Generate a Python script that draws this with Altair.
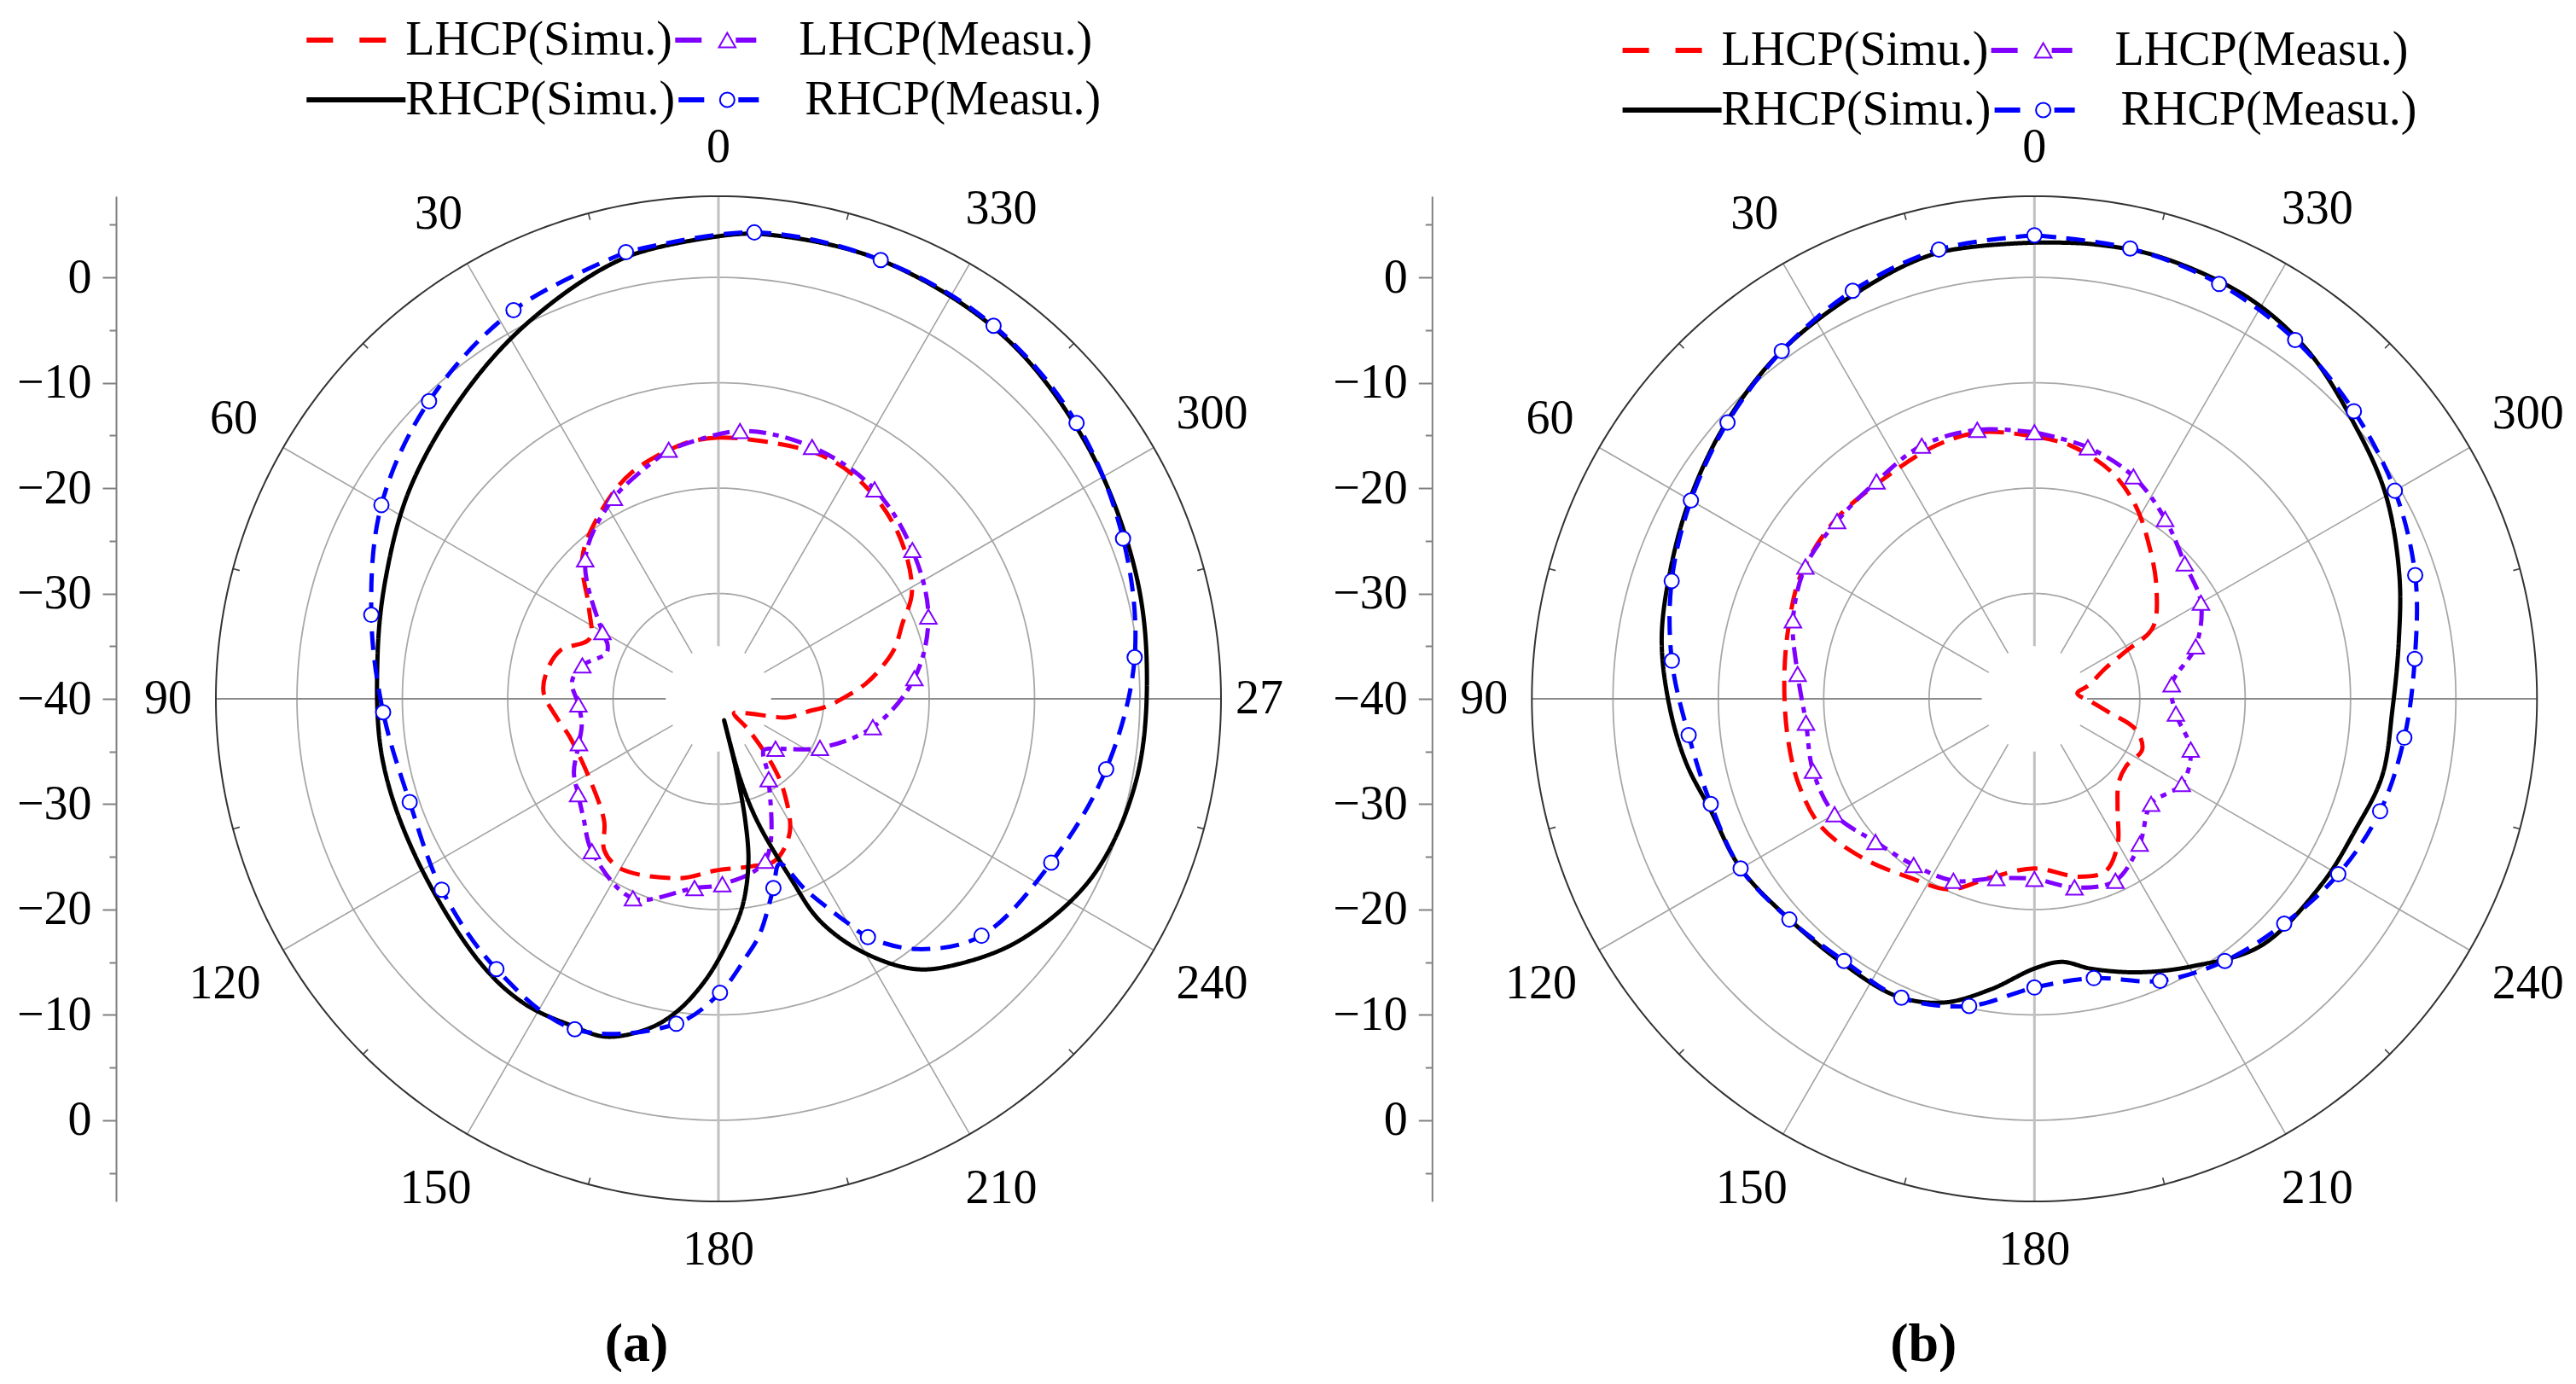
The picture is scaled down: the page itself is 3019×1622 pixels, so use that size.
import altair as alt
import pandas as pd

# ------------------------------------------------------------------ data
# angle in degrees (0 at the top, increasing counter-clockwise), gain in dB
SERIES = ["LHCP(Simu.)", "LHCP(Measu.)", "RHCP(Simu.)", "RHCP(Measu.)"]

# ---------- panel (a)
a_lhcp_sim_deg = [0, 7, 21, 32, 44, 55, 65, 73, 81, 88, 97, 104, 122, 137, 143, 150, 168, 179, 191, 199,
                  208, 215, 219, 224, 227, 238, 245, 255, 262, 266, 271, 276, 281, 286, 292, 299, 312, 325,
                  337, 354, 360]
a_lhcp_sim_db = [-15.2, -15.5, -17.0, -19.0, -21.4, -25.0, -26.5, -24.3, -23.5, -23.4, -24.6, -25.4, -25.6,
                 -24.1, -22.0, -21.4, -22.6, -23.7, -23.8, -23.7, -25.6, -29.1, -31.7, -35.8, -38.0, -37.5,
                 -36.7, -33.2, -31.4, -29.7, -27.9, -25.9, -24.2, -22.6, -21.2, -19.0, -16.9, -15.5, -14.9,
                 -15.2, -15.2]

a_rhcp_sim_deg = [0, 12, 27, 41, 56, 70, 83, 100, 117, 137.4, 147.4, 156, 161.6, 168, 172.5, 177.4, 182.3,
                  186.6, 190.3, 192.4, 194, 194.8, 195.2, 197.6, 202, 204.5, 209.6, 216, 222, 231.5, 244.6,
                  259, 275, 288.6, 305, 322, 340, 355, 360]
a_rhcp_sim_db = [3.9, 2.8, 0.0, -2.5, -4.6, -6.4, -7.4, -7.6, -7.6, -6.3, -5.7, -6.0, -6.2, -8.0, -10.1,
                 -13.3, -17.0, -20.2, -24.1, -28.1, -33.3, -37.9, -32.2, -27.8, -21.5, -16.9, -12.4, -8.3,
                 -6.1, -3.3, -0.7, 0.4, 0.8, 1.45, 2.5, 3.8, 4.4, 4.3, 3.9]

# measured: marked samples, plus unmarked samples traced between markers
a_lhcp_meas_deg = [11.3, 27.5, 43.7, 60.1, 76.2, 92.3, 107.7, 124.2, 140.3, 156.8, 172.8, 181.2, 196.1,
                   212.0, 228.8, 244.2, 259.6, 276.0, 291.4, 307.5, 323.3, 339.6, 355.4]
a_lhcp_meas_db = [-15.9, -18.5, -21.7, -27.3, -26.7, -26.7, -26.1, -23.9, -21.2, -19.4, -21.9, -22.4, -24.0,
                  -31.0, -32.8, -29.3, -25.1, -21.3, -18.6, -16.8, -15.2, -14.5, -14.5]
a_lhcp_meas_between_deg = [64.0, 68.0, 83.4, 100.6, 117.0, 131.5, 221.5]
a_lhcp_meas_between_db = [-28.3, -28.5, -26.0, -26.8, -24.6, -22.9, -33.5]

a_rhcp_meas_deg = [11.7, 27.8, 44.2, 60.1, 76.4, 92.3, 108.5, 124.6, 140.6, 156.5, 172.6, 180.3, 196.2,
                   212.1, 228.0, 243.8, 259.7, 275.7, 291.6, 307.6, 323.6, 339.7, 355.6]
a_rhcp_meas_db = [3.3, 1.7, -0.6, -3.1, -6.1, -8.15, -9.1, -8.1, -6.8, -5.8, -8.9, -12.1, -21.3, -13.3,
                  -6.4, -4.8, -2.6, -0.3, 1.3, 2.9, 4.0, 4.4, 4.4]
a_rhcp_meas_between_deg = [186.0, 189.9, 200.3, 204.5, 210.0, 218.6]
a_rhcp_meas_between_db = [-15.3, -17.3, -23.3, -20.1, -15.4, -9.6]

# ---------- panel (b)
b_lhcp_sim_deg = [0, 11, 21, 35, 48, 62, 74, 86, 99, 110, 121, 133, 145, 156, 166, 180, 194, 202.4, 209.8,
                  216.7, 225, 233.5, 244.9, 253.3, 259.7, 266.6, 277.2, 284, 293.2, 297.4, 301, 312.5, 322.9,
                  332.2, 341, 352, 360]
b_lhcp_sim_db = [-15.1, -14.2, -14.2, -14.7, -14.6, -14.9, -15.7, -16.2, -16.3, -16.2, -16.4, -17.8, -19.3,
                 -20.2, -22.5, -23.9, -22.6, -22.3, -24.1, -26.8, -28.7, -29.2, -28.7, -30.0, -32.8, -34.5,
                 -35.9, -34.7, -32.7, -30.3, -26.9, -24.3, -21.9, -19.35, -17.3, -15.7, -15.1]

b_rhcp_sim_deg = [0, 12.4, 23.8, 36.1, 48, 59.9, 71.1, 81.2, 91.6, 100.5, 109, 119.9, 131.7, 143.8, 155,
                  163.3, 171.4, 180, 185.9, 192, 201, 210.7, 222.5, 237.1, 247.7, 257.4, 268.4, 278.9, 288.9,
                  300.4, 310.5, 321.8, 332.1, 344.2, 352.8, 360]
b_rhcp_sim_db = [3.3, 3.3, 2.05, 0.8, -0.7, -2.2, -3.4, -4.2, -5.4, -6.4, -7.5, -7.8, -8.7, -9.0, -8.9, -9.9,
                 -12.1, -14.4, -14.9, -13.8, -12.2, -10.5, -8.2, -7.55, -7.1, -6.2, -6.0, -5.0, -3.4, -1.4,
                 0.0, 2.0, 3.15, 3.6, 3.5, 3.3]

b_meas_deg = [0, 12, 24, 36, 48, 60, 72, 84, 96, 108, 120, 132, 144, 156, 168, 180, 192, 204, 216, 228, 240,
              252, 264, 276, 288, 300, 312, 324, 336, 348]
b_lhcp_meas_db = [-14.7, -13.9, -13.7, -14.5, -14.8, -14.9, -15.9, -17.4, -18.2, -17.9, -18.1, -19.7, -20.5,
                  -21.1, -22.6, -22.9, -21.7, -21.1, -23.0, -25.1, -23.85, -24.4, -26.5, -26.9, -23.9, -21.75,
                  -20.8, -18.9, -16.9, -15.6]
b_rhcp_meas_db = [4.0, 3.6, 2.4, 0.8, -0.8, -2.35, -3.8, -5.4, -7.0, -7.7, -7.8, -8.7, -9.25, -8.95, -10.2,
                  -12.6, -12.9, -10.7, -9.25, -8.1, -6.7, -5.5, -4.7, -3.7, -2.0, -0.5, 0.8, 2.1, 3.1, 3.7]

ring_db = [-30, -20, -10, 0]          # grid circles
spoke_step = 30                         # angular grid / labels
radial_ticks = list(range(-45, 50, 5))  # radial axis ticks (offset units)

# ------------------------------------------------------------------ layout / style
CENTRE_DB = -40.0      # gain at the centre of the plot
R = 47.7               # outer circle radius (dB above the centre value)
R_IN = 5.0             # spokes start here
SIDE = 1178            # plot area side in px
PX = SIDE / (2 * R)    # px per dB
FONT = "Liberation Serif"
COLORS = {"LHCP(Simu.)": "#ff0000", "LHCP(Measu.)": "#8000ff",
          "RHCP(Simu.)": "#000000", "RHCP(Measu.)": "#0000ff"}
DASH = {"LHCP(Simu.)": [24, 12], "LHCP(Measu.)": [20, 8, 7, 8],
        "RHCP(Simu.)": [1, 0], "RHCP(Measu.)": [22, 12]}
SHAPE = {"LHCP(Measu.)": "triangle-up", "RHCP(Measu.)": "circle"}
MSIZE = {"LHCP(Measu.)": 380, "RHCP(Measu.)": 290}

XS = alt.Scale(domain=[-R, R], nice=False, zero=False)
YS = alt.Scale(domain=[-R, R], nice=False, zero=False)
LABEL_EXPR = ("datum.value % 10 === 0 ? format(abs(datum.value) + (" + str(CENTRE_DB) + "), 'd') : ''")
YAXIS = alt.Axis(
    values=radial_ticks,
    labelExpr=LABEL_EXPR,
    tickSize={"condition": {"test": "datum.value % 10 === 0", "value": 16}, "value": 8},
    offset=117, grid=False, title=None, labelFont=FONT, labelFontSize=56, labelColor="black",
    labelPadding=13, domainColor="#808080", domainWidth=2, tickColor="#808080", tickWidth=2,
    labelOverlap=False)

RAD = "datum.deg*PI/180"


def cx(r):
    return f"-({r})*sin({RAD})"


def cy(r):
    return f"({r})*cos({RAD})"


def ex(f):
    return alt.X(f"{f}:Q", scale=XS, axis=None)


def ey(f):
    return alt.Y(f"{f}:Q", scale=YS, axis=YAXIS)


def rings(radii, color, width):
    return (alt.Chart(alt.sequence(0, 361, 1, as_="deg"))
            .transform_calculate(ring=str(list(radii)))
            .transform_flatten(["ring"])
            .transform_calculate(x=cx("datum.ring"), y=cy("datum.ring"))
            .mark_line(color=color, strokeWidth=width)
            .encode(x=ex("x"), y=ey("y"), detail="ring:Q", order="deg:Q"))


def spokes(test, color, width, r0, r1, start=0):
    return (alt.Chart(alt.sequence(start, 360, spoke_step, as_="deg"))
            .transform_filter(test)
            .transform_calculate(x=cx(r0), y=cy(r0), xb=cx(r1), yb=cy(r1))
            .mark_rule(color=color, strokeWidth=width)
            .encode(x=ex("x"), y=ey("y"), x2=alt.X2("xb"), y2=alt.Y2("yb")))


def curve_df(deg, db, between_deg=(), between_db=()):
    pts = [(d, v, True) for d, v in zip(deg, db)] + [(d, v, False) for d, v in zip(between_deg, between_db)]
    pts.sort(key=lambda p: p[0])
    if (pts[-1][0] - pts[0][0]) % 360 != 0:
        pts.append((pts[0][0], pts[0][1], False))      # close the loop with the first sample
    return pd.DataFrame({"i": range(len(pts)), "deg": [p[0] for p in pts],
                         "db": [p[1] for p in pts], "marker": [p[2] for p in pts]})


def curve_layers(name, df):
    base = (alt.Chart(df)
            .transform_calculate(r=f"datum.db - ({CENTRE_DB})")
            .transform_calculate(x=cx("datum.r"), y=cy("datum.r")))
    out = [base.mark_line(color=COLORS[name], strokeDash=DASH[name], strokeWidth=5,
                          interpolate="catmull-rom")
           .encode(x=ex("x"), y=ey("y"), order="i:Q")]
    if name in SHAPE:
        out.append(base.transform_filter("datum.marker")
                   .mark_point(shape=SHAPE[name], filled=True, fill="white", stroke=COLORS[name],
                               strokeWidth=2, size=MSIZE[name], opacity=1)
                   .encode(x=ex("x"), y=ey("y")))
    return out


# legend geometry (px relative to the circle centre)
LEG_SEG = {"LHCP(Simu.)": [(-482.7, -451.7), (-420.7, -389.7)],
           "RHCP(Simu.)": [(-482.7, -366.7)],
           "LHCP(Measu.)": [(-50.7, -19.7), (20.3, 44.3)],
           "RHCP(Measu.)": [(-46.7, -16.7), (23.3, 47.3)]}
LEG_MARK_X = 10.3
LEG_TEXT_X = {"LHCP(Simu.)": -366.7, "RHCP(Simu.)": -366.7, "LHCP(Measu.)": 94.3, "RHCP(Measu.)": 101.3}
LEG_ROW = {"LHCP(Simu.)": 0, "LHCP(Measu.)": 0, "RHCP(Simu.)": 1, "RHCP(Measu.)": 1}
CAPTION_Y = -757       # px below the circle centre


def legend_layers(rows_px):
    segs, texts, marks = [], [], []
    for s in SERIES:
        y = rows_px[LEG_ROW[s]] / PX
        for a, b in LEG_SEG[s]:
            segs.append({"series": s, "x": a / PX, "xb": b / PX, "y": y})
        texts.append({"series": s, "x": LEG_TEXT_X[s] / PX, "y": y})
        if s in SHAPE:
            marks.append({"series": s, "x": LEG_MARK_X / PX, "y": y})
    col = alt.Color("series:N", scale=alt.Scale(domain=SERIES, range=[COLORS[s] for s in SERIES]),
                    legend=None)
    out = [alt.Chart(pd.DataFrame(segs)).mark_rule(strokeWidth=6)
           .encode(x=ex("x"), x2=alt.X2("xb"), y=ey("y"), color=col),
           alt.Chart(pd.DataFrame(texts)).mark_text(font=FONT, fontSize=56, color="black",
                                                     align="left", baseline="middle")
           .encode(x=ex("x"), y=ey("y"), text="series:N")]
    mdf = pd.DataFrame(marks)
    for s in SHAPE:
        out.append(alt.Chart(mdf).transform_filter(alt.datum.series == s)
                   .mark_point(shape=SHAPE[s], filled=True, fill="white", stroke=COLORS[s],
                               strokeWidth=2, size=MSIZE[s], opacity=1)
                   .encode(x=ex("x"), y=ey("y")))
    return out


def panel(tag, curves, rows_px, cap_dx, limit270=None):
    ring_r = [d - CENTRE_DB for d in ring_db]
    layers = [
        rings(ring_r, "#a8a8a8", 1.8),
        spokes("datum.deg % 90 != 0", "#a3a3a3", 1.6, R_IN, R),
        spokes("datum.deg % 180 == 0", "#c0c0c0", 3, R_IN, R),
        spokes("datum.deg % 180 == 90", "#8c8c8c", 2, R_IN, R),
        spokes("true", "#444444", 1.6, R - 0.65, R, start=15),
        rings([R], "#333333", 2),
    ]
    lab = (alt.Chart(alt.sequence(0, 360, spoke_step, as_="deg"))
           .transform_calculate(label="toString(datum.deg)"))
    layers.append(
        lab.transform_filter("datum.deg != 270")
        .transform_calculate(lr=f"{R} + (28 + abs(sin({RAD}))*length(datum.label)*14 + "
                                f"abs(cos({RAD}))*29)/{PX}")
        .transform_calculate(x=cx("datum.lr"), y=cy("datum.lr"))
        .mark_text(font=FONT, fontSize=56, color="black", align="center", baseline="middle")
        .encode(x=ex("x"), y=ey("y"), text="label:N"))
    if limit270 is not None:
        # the right-hand label is cut by the edge of the sub-figure
        layers.append(
            lab.transform_filter("datum.deg == 270")
            .transform_calculate(lr=f"{R} + 17/{PX}")
            .transform_calculate(x=cx("datum.lr"), y=cy("datum.lr"))
            .mark_text(font=FONT, fontSize=56, color="black", align="left", baseline="middle",
                       limit=limit270, ellipsis="\u200b")
            .encode(x=ex("x"), y=ey("y"), text="label:N"))
    for s in ["LHCP(Simu.)", "LHCP(Measu.)", "RHCP(Simu.)", "RHCP(Measu.)"]:
        layers += curve_layers(s, curves[s])
    layers += legend_layers(rows_px)
    layers.append(
        alt.Chart(pd.DataFrame({"tag": [tag], "x": [cap_dx / PX], "y": [CAPTION_Y / PX]}))
        .mark_text(font=FONT, fontSize=64, fontWeight="bold", color="black",
                   align="center", baseline="middle")
        .encode(x=ex("x"), y=ey("y"), text="tag:N"))
    return alt.layer(*layers).properties(width=SIDE, height=SIDE)


curves_a = {
    "LHCP(Simu.)": curve_df(a_lhcp_sim_deg, a_lhcp_sim_db),
    "RHCP(Simu.)": curve_df(a_rhcp_sim_deg, a_rhcp_sim_db),
    "LHCP(Measu.)": curve_df(a_lhcp_meas_deg, a_lhcp_meas_db, a_lhcp_meas_between_deg, a_lhcp_meas_between_db),
    "RHCP(Measu.)": curve_df(a_rhcp_meas_deg, a_rhcp_meas_db, a_rhcp_meas_between_deg, a_rhcp_meas_between_db),
}
curves_b = {
    "LHCP(Simu.)": curve_df(b_lhcp_sim_deg, b_lhcp_sim_db),
    "RHCP(Simu.)": curve_df(b_rhcp_sim_deg, b_rhcp_sim_db),
    "LHCP(Measu.)": curve_df(b_meas_deg, b_lhcp_meas_db),
    "RHCP(Measu.)": curve_df(b_meas_deg, b_rhcp_meas_db),
}

pa = panel("(a)", curves_a, (772, 702), -96, 60)
pb = panel("(b)", curves_b, (760, 690), -130)

chart = (alt.hconcat(pa, pb, spacing=364.3, bounds="flush")
         .properties(padding={"left": 11, "top": 11, "right": 0, "bottom": 0})
         .configure_view(stroke=None))

chart.save("out.html", embed_options={"renderer": "svg", "actions": False})
